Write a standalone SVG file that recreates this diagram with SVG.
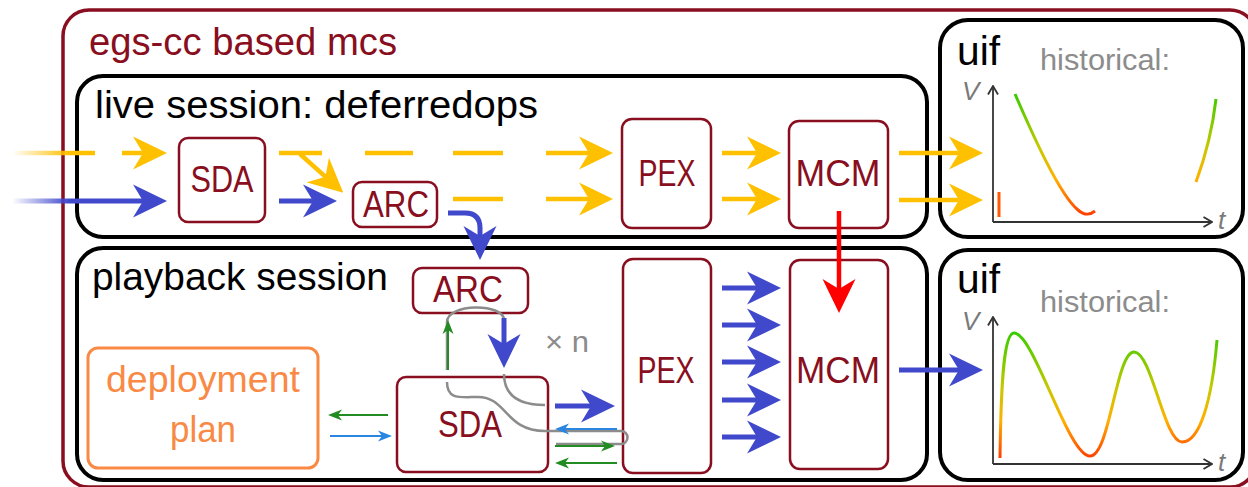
<svg xmlns="http://www.w3.org/2000/svg" width="1248" height="487" viewBox="0 0 1248 487">
<defs>
<style>
text{font-family:"Liberation Sans",Arial,sans-serif}
.frame{fill:none;stroke:#000;stroke-width:4}
.node{fill:#fff;stroke:#880E20;stroke-width:2.5}
.lbl{fill:#880E20;font-size:36px;text-anchor:middle}
.head{fill:#000;font-size:38px}
.y{fill:none;stroke:#FFC000;stroke-width:4.5}
.b{fill:none;stroke:#4048CC;stroke-width:5}
.r{fill:none;stroke:#FF0000;stroke-width:4.5}
.g{fill:none;stroke:#228B22;stroke-width:2}
.lb{fill:none;stroke:#2A86E0;stroke-width:2}
.gr{fill:none;stroke:#8C8C8C;stroke-width:2.5}
.ax{fill:none;stroke:#333;stroke-width:1.8}
.hist{fill:#8C8C8C;font-size:30px}
.var{fill:#7A7A7A;font-size:26px;font-style:italic}
.uif{fill:#000;font-size:41px}
</style>
<marker id="mY" viewBox="0 -17 34 34" markerWidth="34" markerHeight="34" refX="14" refY="0" orient="auto" markerUnits="userSpaceOnUse"><path d="M0,-16.5 L34,0 L0,16.5 L10,0 Z" fill="#FFC000"/></marker>
<marker id="mB" viewBox="0 -17 34 34" markerWidth="34" markerHeight="34" refX="14" refY="0" orient="auto" markerUnits="userSpaceOnUse"><path d="M0,-16.5 L34,0 L0,16.5 L10,0 Z" fill="#4048CC"/></marker>
<marker id="mR" viewBox="0 -17 34 34" markerWidth="34" markerHeight="34" refX="14" refY="0" orient="auto" markerUnits="userSpaceOnUse"><path d="M0,-16.5 L34,0 L0,16.5 L10,0 Z" fill="#FF0000"/></marker>
<marker id="mG" viewBox="0 -6 14 12" markerWidth="14" markerHeight="12" refX="6" refY="0" orient="auto" markerUnits="userSpaceOnUse"><path d="M0,-5.5 L14,0 L0,5.5 L4,0 Z" fill="#228B22"/></marker>
<marker id="mL" viewBox="0 -6 14 12" markerWidth="14" markerHeight="12" refX="6" refY="0" orient="auto" markerUnits="userSpaceOnUse"><path d="M0,-5.5 L14,0 L0,5.5 L4,0 Z" fill="#2A86E0"/></marker>
<marker id="mA" viewBox="0 -6 10 12" markerWidth="10" markerHeight="12" refX="9" refY="0" orient="auto" markerUnits="userSpaceOnUse"><path d="M0.5,-5 L9,0 L0.5,5" fill="none" stroke="#333" stroke-width="1.8"/></marker>
<linearGradient id="fadeY" gradientUnits="userSpaceOnUse" x1="12" y1="0" x2="70" y2="0"><stop offset="0" stop-color="#FFC000" stop-opacity="0"/><stop offset="1" stop-color="#FFC000"/></linearGradient>
<linearGradient id="fadeB" gradientUnits="userSpaceOnUse" x1="12" y1="0" x2="70" y2="0"><stop offset="0" stop-color="#4048CC" stop-opacity="0"/><stop offset="1" stop-color="#4048CC"/></linearGradient>
<linearGradient id="vTop" gradientUnits="userSpaceOnUse" x1="0" y1="92" x2="0" y2="216"><stop offset="0" stop-color="#33CC00"/><stop offset="0.45" stop-color="#C8C800"/><stop offset="0.7" stop-color="#FFB000"/><stop offset="1" stop-color="#FF3A00"/></linearGradient>
<linearGradient id="vBot" gradientUnits="userSpaceOnUse" x1="0" y1="331" x2="0" y2="459"><stop offset="0" stop-color="#33CC00"/><stop offset="0.45" stop-color="#C8C800"/><stop offset="0.7" stop-color="#FFB000"/><stop offset="1" stop-color="#FF3A00"/></linearGradient>
</defs>

<rect width="1248" height="487" fill="#fff"/>

<g id="mcs">
<rect x="63" y="10" width="1193" height="477" rx="26" fill="none" stroke="#880E20" stroke-width="3.5"/>
<text x="89" y="55" font-size="38" fill="#880E20" textLength="308" lengthAdjust="spacingAndGlyphs">egs-cc based mcs</text>
</g>

<g id="live-session">
<rect class="frame" x="77" y="76" width="850" height="161" rx="26"/>
<text class="head" x="95" y="118" textLength="443" lengthAdjust="spacingAndGlyphs">live session: deferredops</text>
</g>

<g id="playback-session">
<rect class="frame" x="77" y="248" width="850" height="232" rx="26"/>
<text class="head" x="92" y="290" textLength="296" lengthAdjust="spacingAndGlyphs">playback session</text>
</g>

<g id="uif-live">
<rect class="frame" x="940" y="20" width="303" height="217" rx="28"/>
<text class="uif" x="957" y="65" textLength="43" lengthAdjust="spacingAndGlyphs">uif</text>
<text class="hist" x="1040" y="70" textLength="130" lengthAdjust="spacingAndGlyphs">historical:</text>
<text class="var" x="962" y="100">V</text>
<text class="var" x="1218" y="229">t</text>
<path class="ax" d="M993,222 V86" marker-end="url(#mA)"/>
<path class="ax" d="M993,222 H1212" marker-end="url(#mA)"/>
<path d="M1015,94 C1035,140 1060,195 1078,210 C1085,216 1090,215 1095,211" fill="none" stroke="url(#vTop)" stroke-width="3"/>
<path d="M1196,182 C1206,155 1213,125 1216,99" fill="none" stroke="url(#vTop)" stroke-width="3"/>
<path d="M999,192 V217" fill="none" stroke="#FF5A00" stroke-width="3"/>
</g>

<g id="uif-playback">
<rect class="frame" x="940" y="250" width="303" height="230" rx="28"/>
<text class="uif" x="957" y="293" textLength="43" lengthAdjust="spacingAndGlyphs">uif</text>
<text class="hist" x="1040" y="312" textLength="130" lengthAdjust="spacingAndGlyphs">historical:</text>
<text class="var" x="962" y="330">V</text>
<text class="var" x="1218" y="471">t</text>
<path class="ax" d="M993,464 V317" marker-end="url(#mA)"/>
<path class="ax" d="M993,464 H1212" marker-end="url(#mA)"/>
<path d="M1000,458 C1001,380 1004,333 1014,333 C1034,333 1068,456 1090,456 C1110,456 1116,352 1134,352 C1152,352 1164,442 1182,442 C1200,442 1212,400 1217,340" fill="none" stroke="url(#vBot)" stroke-width="3"/>
</g>

<g id="sda-live"><rect class="node" x="179" y="138" width="86" height="84" rx="9"/><text class="lbl" x="222" y="192" textLength="63" lengthAdjust="spacingAndGlyphs">SDA</text></g>
<g id="arc-live"><rect class="node" x="353" y="182" width="84" height="45" rx="9"/><text class="lbl" x="396" y="217" textLength="66" lengthAdjust="spacingAndGlyphs">ARC</text></g>
<g id="pex-live"><rect class="node" x="622" y="119" width="89" height="109" rx="10"/><text class="lbl" x="667" y="186" textLength="57" lengthAdjust="spacingAndGlyphs">PEX</text></g>
<g id="mcm-live"><rect class="node" x="789" y="121" width="99" height="107" rx="10"/><text class="lbl" x="838" y="186" textLength="85" lengthAdjust="spacingAndGlyphs">MCM</text></g>

<g id="arc-playback"><rect class="node" x="413" y="268" width="115" height="45" rx="9"/><text class="lbl" x="468" y="302" textLength="70" lengthAdjust="spacingAndGlyphs">ARC</text></g>
<g id="sda-playback"><rect class="node" x="397" y="377" width="151" height="95" rx="9"/><text class="lbl" x="470" y="437" textLength="64" lengthAdjust="spacingAndGlyphs">SDA</text></g>
<g id="pex-playback"><rect class="node" x="623" y="259" width="88" height="214" rx="10"/><text class="lbl" x="666" y="383" textLength="57" lengthAdjust="spacingAndGlyphs">PEX</text></g>
<g id="mcm-playback"><rect class="node" x="790" y="260" width="98" height="209" rx="10"/><text class="lbl" x="838" y="383" textLength="84" lengthAdjust="spacingAndGlyphs">MCM</text></g>
<g id="deployment-plan">
<rect x="88" y="348" width="230" height="120" rx="10" fill="#fff" stroke="#F98A45" stroke-width="3"/>
<text x="203" y="392" font-size="36" fill="#F98A45" text-anchor="middle" textLength="194" lengthAdjust="spacingAndGlyphs">deployment</text>
<text x="203" y="442" font-size="36" fill="#F98A45" text-anchor="middle" textLength="66" lengthAdjust="spacingAndGlyphs">plan</text>
</g>
<text x="545" y="352" font-size="30" fill="#8C8C8C" textLength="44" lengthAdjust="spacingAndGlyphs">× n</text>

<g id="connectors">
<path d="M13,153 H95" stroke="url(#fadeY)" stroke-width="4.5" fill="none"/>
<path class="y" d="M122,153 H147" marker-end="url(#mY)"/>
<path class="y" d="M279,153 H322"/>
<path class="y" d="M300,154 L328.4,179.4" marker-end="url(#mY)"/>
<path class="y" d="M365,153 H413"/>
<path class="y" d="M453,153 H503"/>
<path class="y" d="M546,153 H593" marker-end="url(#mY)"/>
<path class="y" d="M722,153 H761" marker-end="url(#mY)"/>
<path class="y" d="M899,153 H963" marker-end="url(#mY)"/>
<path d="M13,201 H147" stroke="url(#fadeB)" stroke-width="5" fill="none" marker-end="url(#mB)"/>
<path class="b" d="M279,201 H317" marker-end="url(#mB)"/>
<path class="y" d="M453,199 H503"/>
<path class="y" d="M546,199 H593" marker-end="url(#mY)"/>
<path class="y" d="M722,199 H761" marker-end="url(#mY)"/>
<path class="y" d="M899,200 H963" marker-end="url(#mY)"/>
<path class="b" d="M448,213 H465 Q480,213 480,228 V240" marker-end="url(#mB)"/>
<path class="r" d="M839,211 V293" marker-end="url(#mR)"/>
<path class="gr" d="M447,322 C447,303 504,303 504,320"/>
<path class="gr" d="M447,370 V322"/>
<path class="gr" d="M447,382 C447,400 460,397 478,397 C507,397 505,431 545,431 H621 A6.5,6.5 0 0 1 621,444 H556"/>
<path class="gr" d="M504,374 C504,398 522,405 545,405"/>
<path class="g" d="M448,370 V328" marker-end="url(#mG)"/>
<path class="b" d="M504,318 V348" marker-end="url(#mB)"/>
<path class="b" d="M555,406 H595" marker-end="url(#mB)"/>
<path class="lb" d="M617,429 H563" marker-end="url(#mL)"/>
<path class="g" d="M555,446 H607" marker-end="url(#mG)"/>
<path class="g" d="M617,463 H563" marker-end="url(#mG)"/>
<path class="g" d="M388,415 H336" marker-end="url(#mG)"/>
<path class="lb" d="M330,436 H384" marker-end="url(#mL)"/>
<path class="b" d="M722,288 H761" marker-end="url(#mB)"/>
<path class="b" d="M722,325 H761" marker-end="url(#mB)"/>
<path class="b" d="M722,362 H761" marker-end="url(#mB)"/>
<path class="b" d="M722,400 H761" marker-end="url(#mB)"/>
<path class="b" d="M722,437 H761" marker-end="url(#mB)"/>
<path class="b" d="M899,370 H963" marker-end="url(#mB)"/>
</g>
</svg>
